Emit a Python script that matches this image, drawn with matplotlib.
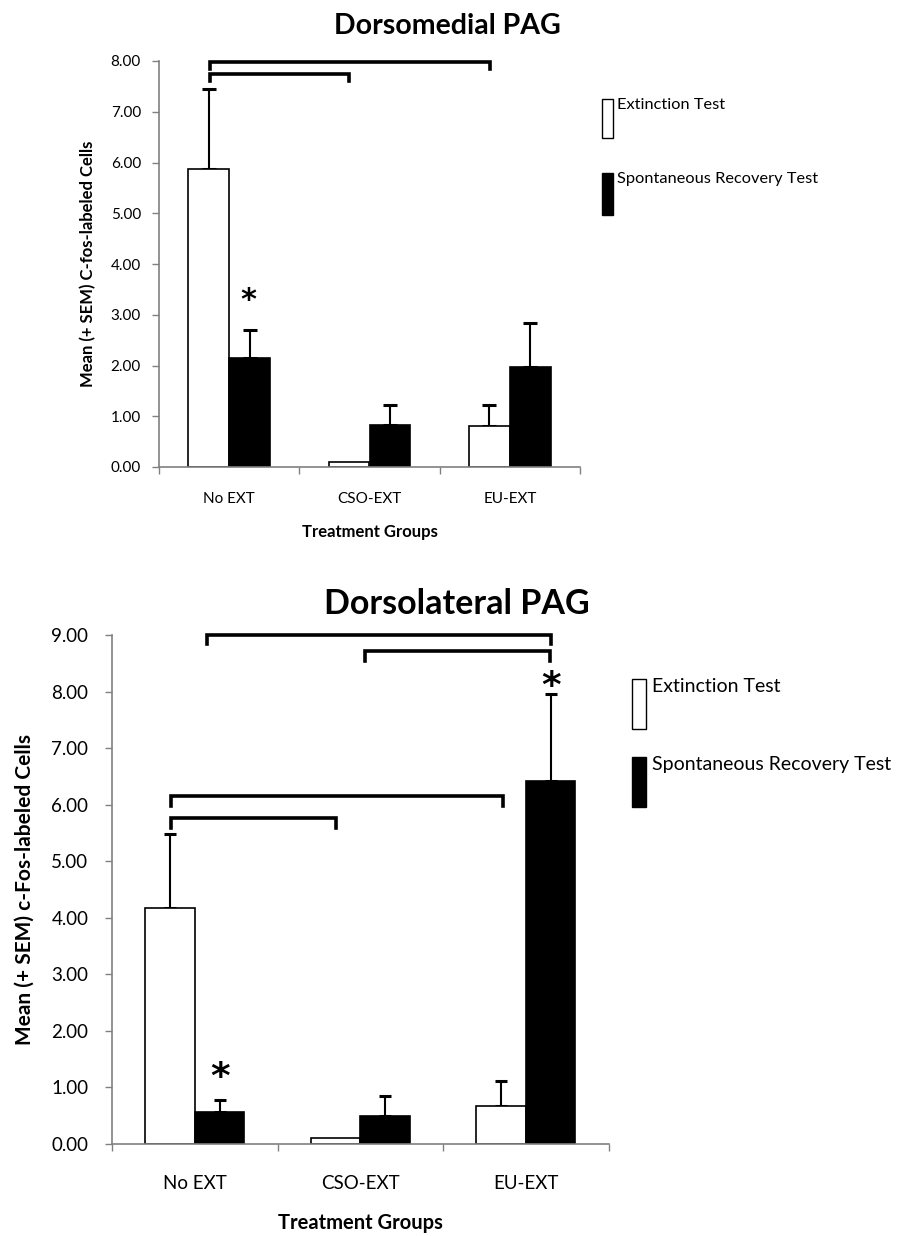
import numpy as np
import matplotlib
matplotlib.use('Agg')
import matplotlib.pyplot as plt
from matplotlib.patches import Rectangle

plt.rcParams['font.family'] = ['Lato', 'DejaVu Sans']

groups = ['No EXT', 'CSO-EXT', 'EU-EXT']
series = ['Extinction Test', 'Spontaneous Recovery Test']

# Dorsomedial PAG
dm_ext = [5.87, 0.10, 0.81]
dm_ext_sem = [1.57, 0.0, 0.42]
dm_spont = [2.14, 0.82, 1.98]
dm_spont_sem = [0.55, 0.41, 0.85]
dm_brackets = [(-0.14, 1.86, 7.98, 7.85), (-0.14, 0.855, 7.74, 7.61)]
dm_stars = [(0.14, 3.46)]

# Dorsolateral PAG
dl_ext = [4.17, 0.10, 0.67]
dl_ext_sem = [1.31, 0.0, 0.44]
dl_spont = [0.56, 0.50, 6.42]
dl_spont_sem = [0.21, 0.35, 1.54]
dl_brackets = [(0.075, 2.155, 9.0, 8.84), (1.03, 2.145, 8.71, 8.54),
               (-0.145, 1.86, 6.15, 5.98), (-0.145, 0.856, 5.77, 5.59)]
dl_stars = [(0.15, 1.36), (2.15, 8.27)]

W, H = 900, 1236
fig = plt.figure(figsize=(W / 100, H / 100), dpi=100)


def panel(rect, ext, ext_sem, spont, spont_sem, ymax, brackets, stars,
          width, fs_tick, fs_lab, fs_ylab, ylabel, ylab_x, xlab_y, tick_pad, xtick_pad,
          star_fs, capsize):
    ax = fig.add_axes(rect)
    x = np.arange(len(groups))
    ax.bar(x - width / 2, ext, width, color='white', edgecolor='black', linewidth=1.2, zorder=2)
    ax.bar(x + width / 2, spont, width, color='black', edgecolor='black', linewidth=1.2, zorder=2)
    for xs, vals, sems in [(x - width / 2, ext, ext_sem), (x + width / 2, spont, spont_sem)]:
        for xi, v, s in zip(xs, vals, sems):
            if s > 0:
                ax.errorbar(xi, v, yerr=[[0], [s]], fmt='none', ecolor='black',
                            elinewidth=1.5, capsize=capsize, capthick=2.2, zorder=1)
    for x1, x2, y, y0 in brackets:
        ax.plot([x1, x1, x2, x2], [y0, y, y, y0], color='black', lw=2.6,
                solid_joinstyle='miter', clip_on=False, zorder=3)
    for sx, sy in stars:
        # asterisk glyph sits ~0.56 em above the baseline; shift so it is centred on (sx, sy)
        ax.annotate('*', (sx, sy), xytext=(0, -0.56 * star_fs), textcoords='offset points',
                    ha='center', va='baseline', fontsize=star_fs, fontweight='bold',
                    family='DejaVu Sans')

    ax.set_xlim(-0.5, 2.5)
    ax.set_ylim(0, ymax)
    ax.set_yticks(np.arange(0, ymax + 0.5, 1))
    ax.set_yticklabels(['%.2f' % v for v in np.arange(0, ymax + 0.5, 1)], fontsize=fs_tick)
    ax.set_xticks([-0.5, 0.5, 1.5, 2.5])
    ax.set_xticklabels([])
    ax.set_xticks(x, minor=True)
    ax.set_xticklabels(groups, minor=True, fontsize=fs_tick)
    ax.tick_params(axis='x', which='minor', length=0, pad=xtick_pad)
    ax.tick_params(axis='both', which='major', direction='out', length=5,
                   color='#808080', width=1)
    ax.tick_params(axis='y', pad=tick_pad)
    for s in ['top', 'right']:
        ax.spines[s].set_visible(False)
    for s in ['left', 'bottom']:
        ax.spines[s].set_color('#808080')
        ax.spines[s].set_linewidth(1.2)
    ax.set_ylabel(ylabel, fontsize=fs_ylab, fontweight='bold', va='center')
    ax.yaxis.set_label_coords(ylab_x, 0.5)
    ax.set_xlabel('Treatment Groups', fontsize=fs_lab, fontweight='bold', va='center')
    ax.xaxis.set_label_coords(0.5, xlab_y)
    return ax


ax1 = panel([159 / W, 1 - 467 / H, 421 / W, 406 / H], dm_ext, dm_ext_sem, dm_spont, dm_spont_sem,
            8, dm_brackets, dm_stars, 0.29, 11, 12, 12, 'Mean (+ SEM) C-fos-labeled Cells',
            -0.169, -0.160, 8, 18, 22, 5)
ax2 = panel([112 / W, 1 - 1144 / H, 496.5 / W, 509 / H], dl_ext, dl_ext_sem, dl_spont, dl_spont_sem,
            9, dl_brackets, dl_stars, 0.30, 13.5, 14.5, 15, 'Mean (+ SEM) c-Fos-labeled Cells',
            -0.175, -0.155, 12, 22, 27, 4.5)

fig.text(447 / W, 1 - 26 / H, 'Dorsomedial PAG', ha='center', va='center',
         fontsize=20.5, fontweight='bold')
fig.text(457 / W, 1 - 604 / H, 'Dorsolateral PAG', ha='center', va='center',
         fontsize=24.5, fontweight='bold')


def legend(px, pw, boxes, tx, fs):
    for (y0, y1), color, label in zip(boxes, ['white', 'black'], series):
        fig.add_artist(Rectangle((px / W, 1 - y1 / H), pw / W, (y1 - y0) / H,
                                 facecolor=color, edgecolor='black', lw=1,
                                 transform=fig.transFigure))
        fig.text(tx / W, 1 - (y0 - 1) / H, label, ha='left', va='top', fontsize=fs)


legend(602, 11, [(99, 138), (173, 215)], 617, 11.8)
legend(632, 14, [(679, 729), (757, 807)], 652, 14)

fig.savefig('out.png', dpi=100)
